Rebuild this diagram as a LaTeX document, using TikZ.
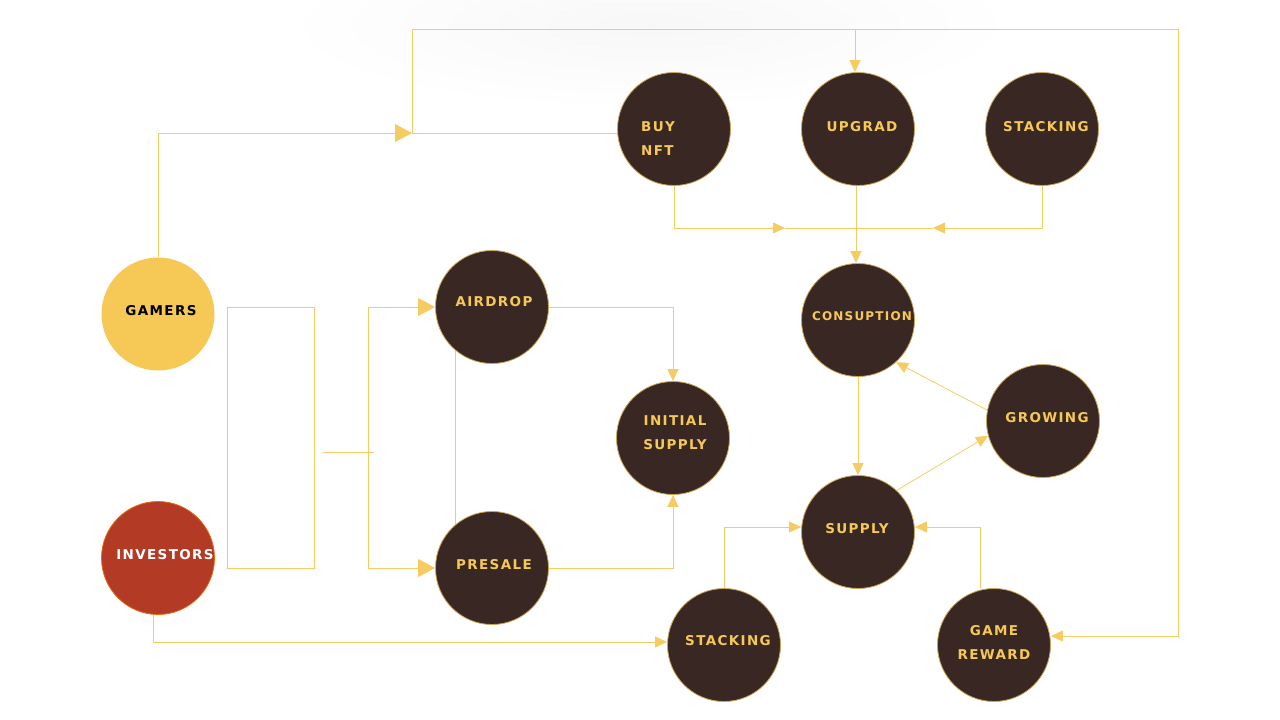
\documentclass[tikz,border=0pt]{standalone}
\usepackage{fontspec}
\setmainfont{DejaVu Sans}
\newfontfamily\tagfont[LetterSpace=10]{DejaVu Sans}
\usetikzlibrary{arrows.meta}
\definecolor{gold}{RGB}{246,201,86}
\definecolor{linegold}{RGB}{246,204,98}
\definecolor{bark}{RGB}{57,39,36}
\definecolor{rim}{RGB}{205,165,85}
\definecolor{rust}{RGB}{179,59,38}

\begin{document}
\begin{tikzpicture}[x=1pt,y=-1pt,
 disc/.style={circle,draw=rim,line width=.8pt,fill=bark,minimum size=113pt,inner sep=0pt},
 lab/.style={font=\tagfont\bfseries\fontsize{13.5}{24}\selectfont,text=gold,align=center,inner sep=0pt},
 wire/.style={draw=linegold,line width=.8pt},
 flow/.style={wire,-{Triangle[length=12pt,width=11pt]}},
 bigflow/.style={wire,-{Triangle[length=17pt,width=18pt]}}]
\useasboundingbox (0,0) rectangle (1280,720);
\shade[inner color=black!3,outer color=white] (650,25) ellipse [x radius=370pt,y radius=85pt];

\node[disc,fill=gold,draw=none,label={[lab,text=black,shift={(3,-3)}]center:GAMERS}] (gamers) at (158,314) {};
\node[disc,fill=rust,draw=orange!70!rust,label={[lab,text=white,shift={(7,-3)}]center:INVESTORS}] (investors) at (158,558) {};
\node[disc,label={[lab,shift={(2,-5)}]center:AIRDROP}] (airdrop) at (492,307) {};
\node[disc,label={[lab,shift={(2,-3)}]center:PRESALE}] (presale) at (492,568) {};
\node[disc,label={[lab,shift={(2,-5)}]center:INITIAL\\SUPPLY}] (initial) at (673,438) {};
\node[disc,label={[lab,align=left,shift={(-16,10)}]center:BUY\\NFT}] (buynft) at (674,129) {};
\node[disc,label={[lab,shift={(4,-2)}]center:UPGRAD}] (upgrad) at (858,129) {};
\node[disc,label={[lab,shift={(4,-2)}]center:STACKING}] (stackTop) at (1042,129) {};
\node[disc,label={[lab,font=\tagfont\bfseries\fontsize{12}{20}\selectfont,shift={(4,-4)}]center:CONSUPTION}] (consuption) at (858,320) {};
\node[disc,label={[lab,shift={(4,-3)}]center:GROWING}] (growing) at (1043,421) {};
\node[disc,label={[lab,shift={(-1,-3)}]center:SUPPLY}] (supply) at (858,532) {};
\node[disc,label={[lab,shift={(4,-4)}]center:STACKING}] (stackLow) at (724,645) {};
\node[disc,label={[lab,shift={(0,-3)}]center:GAME\\REWARD}] (reward) at (994,645) {};

\coordinate (hub) at (412,133);
\coordinate (loop) at (1178,29);
\draw[bigflow] (gamers.north) |- (hub);
\draw[wire] (hub) -- (buynft.west |- hub);
\draw[flow] (hub) |- (loop) |- ([yshift=9pt]reward.east);
\draw[flow] ([xshift=-3pt]upgrad.north |- loop) -- ([xshift=-3pt]upgrad.north);

\coordinate (inL) at (785,228);
\coordinate (inR) at (933,228);
\coordinate (meet) at (856,228);
\draw[flow] (buynft.south) |- (inL);
\draw[wire] (inL) -- (meet);
\draw[flow] (stackTop.south) |- (inR);
\draw[wire] (inR) -- (meet);
\draw[flow] ([xshift=-2pt]upgrad.south) -- ([xshift=-2pt]consuption.north);
\draw[flow] (consuption) -- (supply);
\draw[flow] (growing.169) -- (consuption.-48);
\draw[flow] (supply.47) -- (growing.195);
\draw[flow] (stackLow.north) |- ([yshift=5pt]supply.west);
\draw[flow] ([xshift=-14pt]reward.north) |- ([yshift=5pt]supply.east);
\draw[flow] ([xshift=-5pt]investors.south) |- ([yshift=3pt]stackLow.west);

\draw[wire] (227,307) rectangle (314,568);
\coordinate (tapL) at (323,452);
\coordinate (tapR) at (374,452);
\coordinate (fork) at (368,452);
\draw[wire] (tapL) -- (tapR);
\draw[bigflow] (fork) |- (airdrop.west);
\draw[bigflow] (fork) |- (presale.west);
\draw[wire] (airdrop.-130) -- (presale.130);
\draw[flow] (airdrop.east) -| (initial.north);
\draw[flow] (presale.east) -| (initial.south);
\end{tikzpicture}
\end{document}
